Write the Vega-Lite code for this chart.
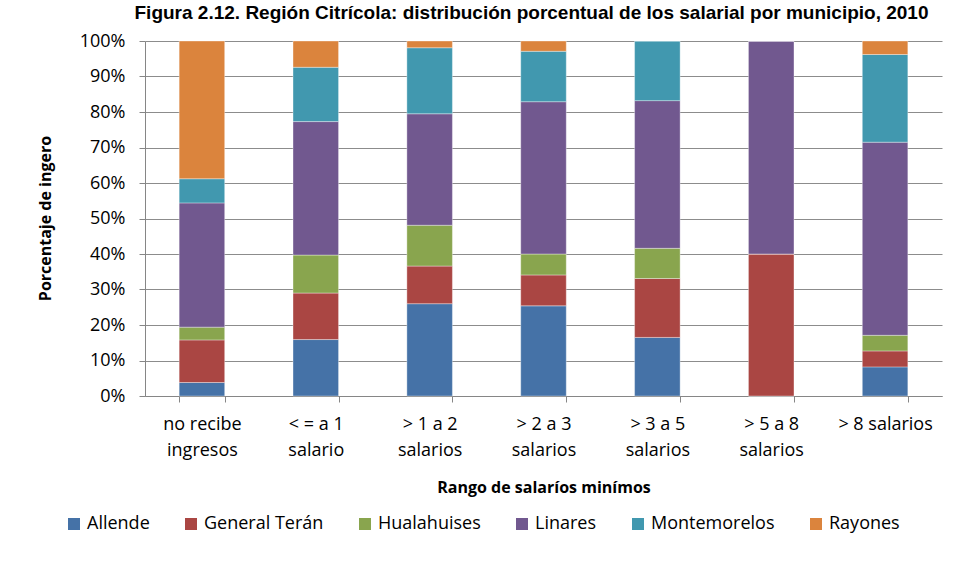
{
  "$schema": "https://vega.github.io/schema/vega-lite/v6.json",
  "autosize": {"type": "none"},
  "width": 797,
  "height": 355,
  "padding": {"left": 145, "top": 41, "right": 14, "bottom": 183},
  "background": "white",
  "title": {
    "text": "Figura 2.12. Región Citrícola: distribución porcentual de los salarial por municipio, 2010",
    "font": "Liberation Sans",
    "fontSize": 19,
    "fontWeight": "bold",
    "color": "black",
    "anchor": "middle",
    "frame": "group",
    "baseline": "bottom",
    "offset": 19,
    "dx": -12,
    "dy": 29
  },
  "data": {
    "values": [
      {"rango": "no recibe ingresos", "municipio": "Allende", "pct": 3.8},
      {"rango": "no recibe ingresos", "municipio": "General Terán", "pct": 12.0},
      {"rango": "no recibe ingresos", "municipio": "Hualahuises", "pct": 3.6},
      {"rango": "no recibe ingresos", "municipio": "Linares", "pct": 35.0},
      {"rango": "no recibe ingresos", "municipio": "Montemorelos", "pct": 6.8},
      {"rango": "no recibe ingresos", "municipio": "Rayones", "pct": 38.8},
      {"rango": "< = a 1 salario", "municipio": "Allende", "pct": 15.9},
      {"rango": "< = a 1 salario", "municipio": "General Terán", "pct": 13.1},
      {"rango": "< = a 1 salario", "municipio": "Hualahuises", "pct": 10.7},
      {"rango": "< = a 1 salario", "municipio": "Linares", "pct": 37.6},
      {"rango": "< = a 1 salario", "municipio": "Montemorelos", "pct": 15.3},
      {"rango": "< = a 1 salario", "municipio": "Rayones", "pct": 7.4},
      {"rango": "> 1 a 2 salarios", "municipio": "Allende", "pct": 26.0},
      {"rango": "> 1 a 2 salarios", "municipio": "General Terán", "pct": 10.6},
      {"rango": "> 1 a 2 salarios", "municipio": "Hualahuises", "pct": 11.5},
      {"rango": "> 1 a 2 salarios", "municipio": "Linares", "pct": 31.4},
      {"rango": "> 1 a 2 salarios", "municipio": "Montemorelos", "pct": 18.6},
      {"rango": "> 1 a 2 salarios", "municipio": "Rayones", "pct": 1.9},
      {"rango": "> 2 a 3 salarios", "municipio": "Allende", "pct": 25.4},
      {"rango": "> 2 a 3 salarios", "municipio": "General Terán", "pct": 8.7},
      {"rango": "> 2 a 3 salarios", "municipio": "Hualahuises", "pct": 5.9},
      {"rango": "> 2 a 3 salarios", "municipio": "Linares", "pct": 42.9},
      {"rango": "> 2 a 3 salarios", "municipio": "Montemorelos", "pct": 14.2},
      {"rango": "> 2 a 3 salarios", "municipio": "Rayones", "pct": 2.9},
      {"rango": "> 3 a 5 salarios", "municipio": "Allende", "pct": 16.5},
      {"rango": "> 3 a 5 salarios", "municipio": "General Terán", "pct": 16.6},
      {"rango": "> 3 a 5 salarios", "municipio": "Hualahuises", "pct": 8.5},
      {"rango": "> 3 a 5 salarios", "municipio": "Linares", "pct": 41.6},
      {"rango": "> 3 a 5 salarios", "municipio": "Montemorelos", "pct": 16.8},
      {"rango": "> 3 a 5 salarios", "municipio": "Rayones", "pct": 0},
      {"rango": "> 5 a 8 salarios", "municipio": "Allende", "pct": 0},
      {"rango": "> 5 a 8 salarios", "municipio": "General Terán", "pct": 40.0},
      {"rango": "> 5 a 8 salarios", "municipio": "Hualahuises", "pct": 0},
      {"rango": "> 5 a 8 salarios", "municipio": "Linares", "pct": 60.0},
      {"rango": "> 5 a 8 salarios", "municipio": "Montemorelos", "pct": 0},
      {"rango": "> 5 a 8 salarios", "municipio": "Rayones", "pct": 0},
      {"rango": "> 8 salarios", "municipio": "Allende", "pct": 8.2},
      {"rango": "> 8 salarios", "municipio": "General Terán", "pct": 4.5},
      {"rango": "> 8 salarios", "municipio": "Hualahuises", "pct": 4.4},
      {"rango": "> 8 salarios", "municipio": "Linares", "pct": 54.4},
      {"rango": "> 8 salarios", "municipio": "Montemorelos", "pct": 24.7},
      {"rango": "> 8 salarios", "municipio": "Rayones", "pct": 3.8}
    ]
  },
  "mark": {"type": "bar", "stroke": "white", "strokeWidth": 0.6, "strokeOpacity": 0.6},
  "encoding": {
    "x": {
      "field": "rango",
      "type": "nominal",
      "sort": null,
      "scale": {"paddingInner": 0.6, "paddingOuter": 0.3},
      "axis": {
        "title": "Rango de salaríos minímos",
        "titleFont": "Open Sans",
        "titleFontSize": 16,
        "titleFontWeight": "bold",
        "titleColor": "black",
        "titleBaseline": "middle",
        "titleY": 91,
        "labelAngle": 0,
        "labelFont": "Open Sans",
        "labelFontSize": 18,
        "labelColor": "black",
        "labelLineHeight": 26,
        "labelPadding": 13,
        "labelExpr": "datum.label == '> 8 salarios' ? datum.label : [slice(datum.label, 0, lastindexof(datum.label, ' ')), slice(datum.label, lastindexof(datum.label, ' ') + 1)]",
        "tickBand": "extent",
        "tickSize": 6,
        "tickColor": "#868686",
        "domainColor": "#868686",
        "grid": false
      }
    },
    "y": {
      "field": "pct",
      "type": "quantitative",
      "stack": "normalize",
      "scale": {"domain": [0, 1], "nice": false},
      "axis": {
        "title": "Porcentaje de ingero",
        "titleFont": "Open Sans",
        "titleFontSize": 16,
        "titleFontWeight": "bold",
        "titleColor": "black",
        "titleBaseline": "middle",
        "titleX": -100,
        "titleY": 177,
        "values": [0, 0.1, 0.2, 0.3, 0.4, 0.5, 0.6, 0.7, 0.8, 0.9, 1],
        "format": ".0%",
        "labelFont": "Open Sans",
        "labelFontSize": 18,
        "labelColor": "black",
        "labelPadding": 14,
        "tickSize": 6,
        "tickColor": "#868686",
        "domainColor": "#868686",
        "grid": true,
        "gridColor": "#8c8c8c",
        "gridWidth": 1
      }
    },
    "color": {
      "field": "municipio",
      "type": "nominal",
      "scale": {
        "domain": ["Allende", "General Terán", "Hualahuises", "Linares", "Montemorelos", "Rayones"],
        "range": ["#4572A7", "#AA4643", "#89A54E", "#71588F", "#4198AF", "#DB843D"]
      },
      "legend": {
        "title": null,
        "orient": "none",
        "direction": "horizontal",
        "columns": 6,
        "legendX": -80,
        "legendY": 474,
        "symbolType": "square",
        "symbolSize": 144,
        "symbolStrokeWidth": 0,
        "labelFont": "Open Sans",
        "labelFontSize": 18,
        "labelColor": "black",
        "labelOffset": 4,
        "columnPadding": 32
      }
    },
    "order": {"field": "municipio"}
  },
  "config": {
    "view": {"stroke": null}
  }
}
